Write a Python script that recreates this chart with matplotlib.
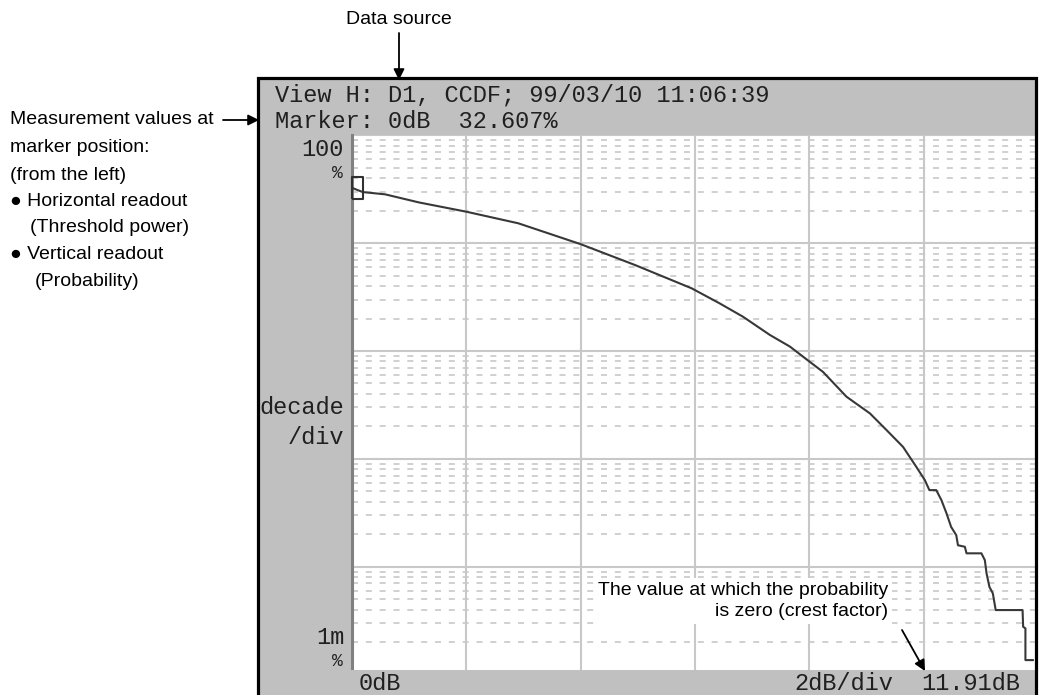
import numpy as np
import matplotlib.pyplot as plt
import matplotlib.patches as mpatches

# CCDF trace (threshold power in dB, probability in %)
db = [0.00, 0.19, 0.58, 1.17, 2.00, 2.91, 4.00, 4.95, 5.94, 6.43, 6.84, 7.31, 7.66,
      8.00, 8.24, 8.65, 9.06, 9.35, 9.64, 9.87, 10.02, 10.10, 10.22, 10.31, 10.40,
      10.48, 10.57, 10.60, 10.72, 10.75, 11.01, 11.07, 11.10, 11.15, 11.21, 11.26,
      11.73, 11.74, 11.78, 11.78, 11.91]
pct = [32.607, 29.8, 28.4, 23.9, 19.6, 15.3, 9.8, 6.28, 3.82, 2.77, 2.08, 1.41, 1.10,
       0.80, 0.64, 0.377, 0.264, 0.185, 0.129, 0.0845, 0.0636, 0.0513, 0.0513, 0.0415,
       0.0312, 0.0234, 0.0196, 0.0158, 0.0153, 0.0133, 0.0133, 0.0115, 0.00867,
       0.00650, 0.00565, 0.00396, 0.00396, 0.00277, 0.00268, 0.00136, 0.00136]

marker_db, marker_pct = 0.0, 32.607
x_div = [0, 2, 4, 6, 8, 10, 12]
decades = [1e-3, 1e-2, 1e-1, 1, 10, 100]

W, H = 1045, 695
def fx(x): return x / W
def fy(y): return 1 - y / H

mono = ['Liberation Mono', 'DejaVu Sans Mono']
sans = ['Liberation Sans', 'DejaVu Sans']
gray = '#c0c0c0'
grid_c = '#c8c8c8'
ink = '#202020'
note_fs = 14

fig = plt.figure(figsize=(10.45, 6.95), dpi=100)

# gray instrument frame behind the plot
fig.add_artist(mpatches.Rectangle((fx(258), fy(700)), fx(1036) - fx(258), fy(78) - fy(700),
                                  transform=fig.transFigure, facecolor=gray, edgecolor='none', zorder=-2))

ax = fig.add_axes([fx(352), fy(674.5), fx(1038) - fx(352), fy(135.4) - fy(674.5)])
ax.set_facecolor('white')
ax.set_xlim(0, 12)
ax.set_yscale('log')
ax.set_ylim(1e-3, 100)

# grid: solid major lines, dashed minor lines (2..9 within each decade)
for xv in x_div:
    ax.axvline(xv, color=grid_c, lw=1.5, zorder=1)
for d in decades:
    ax.axhline(d, color=grid_c, lw=1.5, zorder=1)
for d in decades[:-1]:
    for k in range(2, 10):
        ax.axhline(d * k, color=grid_c, lw=1.2, dashes=(3.6, 4.7), zorder=1)

ax.plot(db, pct, color='#383838', lw=1.5, zorder=3)

# marker box at 0 dB
box = [(0, -1), (1, -1), (1, 1), (0, 1), (0, -1)]
ax.plot([marker_db], [marker_pct], marker=box, ms=16, mfc='none', mec='#303030',
        mew=1.5, clip_on=False, zorder=4)

ax.tick_params(which='both', left=False, bottom=False, labelleft=False, labelbottom=False)
for s in ['top', 'right', 'bottom']:
    ax.spines[s].set_visible(False)
ax.spines['left'].set_color('#808080')
ax.spines['left'].set_linewidth(2.2)

# crest factor note inside the graticule
ax.text(fx(888), fy(601), 'The value at which the probability\nis zero (crest factor)',
        transform=fig.transFigure, ha='right', va='center', multialignment='right',
        family=sans, fontsize=note_fs, color='black', linespacing=1.35, zorder=6,
        bbox=dict(facecolor='white', edgecolor='none', pad=3))

# bottom readout bar and black border
fig.add_artist(mpatches.Rectangle((fx(258), fy(700)), fx(1036) - fx(258), fy(670) - fy(700),
                                  transform=fig.transFigure, facecolor=gray, edgecolor='none', zorder=3))
fig.add_artist(mpatches.Rectangle((fx(258), fy(710)), fx(1036) - fx(258), fy(78) - fy(710),
                                  transform=fig.transFigure, facecolor='none', edgecolor='black',
                                  lw=2.3, zorder=5))

# screen readouts
fs = 17
fig.text(fx(275), fy(95), 'View H: D1, CCDF; 99/03/10 11:06:39', family=mono, fontsize=fs,
         color=ink, va='center', zorder=6)
fig.text(fx(275), fy(122), 'Marker: 0dB  32.607%', family=mono, fontsize=fs,
         color=ink, va='center', zorder=6)
fig.text(fx(344), fy(149), '100', family=mono, fontsize=fs, color=ink, ha='right', va='center', zorder=6)
fig.text(fx(343), fy(174), '%', family=mono, fontsize=fs - 4, color=ink, ha='right', va='center', zorder=6)
fig.text(fx(344), fy(408), 'decade', family=mono, fontsize=fs, color=ink, ha='right', va='center', zorder=6)
fig.text(fx(344), fy(437), '/div', family=mono, fontsize=fs, color=ink, ha='right', va='center', zorder=6)
fig.text(fx(344), fy(638), '1m', family=mono, fontsize=fs, color=ink, ha='right', va='center', zorder=6)
fig.text(fx(343), fy(662), '%', family=mono, fontsize=fs - 4, color=ink, ha='right', va='center', zorder=6)
fig.text(fx(359), fy(684), '0dB', family=mono, fontsize=fs, color=ink, va='center', zorder=6)
fig.text(fx(893), fy(684), '2dB/div', family=mono, fontsize=fs, color=ink, ha='right', va='center', zorder=6)
fig.text(fx(1020), fy(684), '11.91dB', family=mono, fontsize=fs, color=ink, ha='right', va='center', zorder=6)

# callouts outside the screen
fig.text(fx(399), fy(20), 'Data source', family=sans, fontsize=note_fs, ha='center', va='center')
left_lines = [(10, 120, 'Measurement values at'),
              (10, 147, 'marker position:'),
              (10, 175, '(from the left)'),
              (10, 202, '\u25cf Horizontal readout'),
              (30, 228, '(Threshold power)'),
              (10, 255, '\u25cf Vertical readout'),
              (35, 282, '(Probability)')]
for x, y, s in left_lines:
    fig.text(fx(x), fy(y), s, family=sans, fontsize=note_fs, va='center')

arrows = [((399, 33), (399, 80)), ((223, 120), (259, 120)), ((902, 630), (925, 671))]
for (x0, y0), (x1, y1) in arrows:
    fig.add_artist(mpatches.FancyArrowPatch((fx(x0), fy(y0)), (fx(x1), fy(y1)),
                                            transform=fig.transFigure, arrowstyle='-|>',
                                            mutation_scale=16, lw=1.3, color='black',
                                            shrinkA=0, shrinkB=0, zorder=10))

fig.savefig('out.png', dpi=100)
